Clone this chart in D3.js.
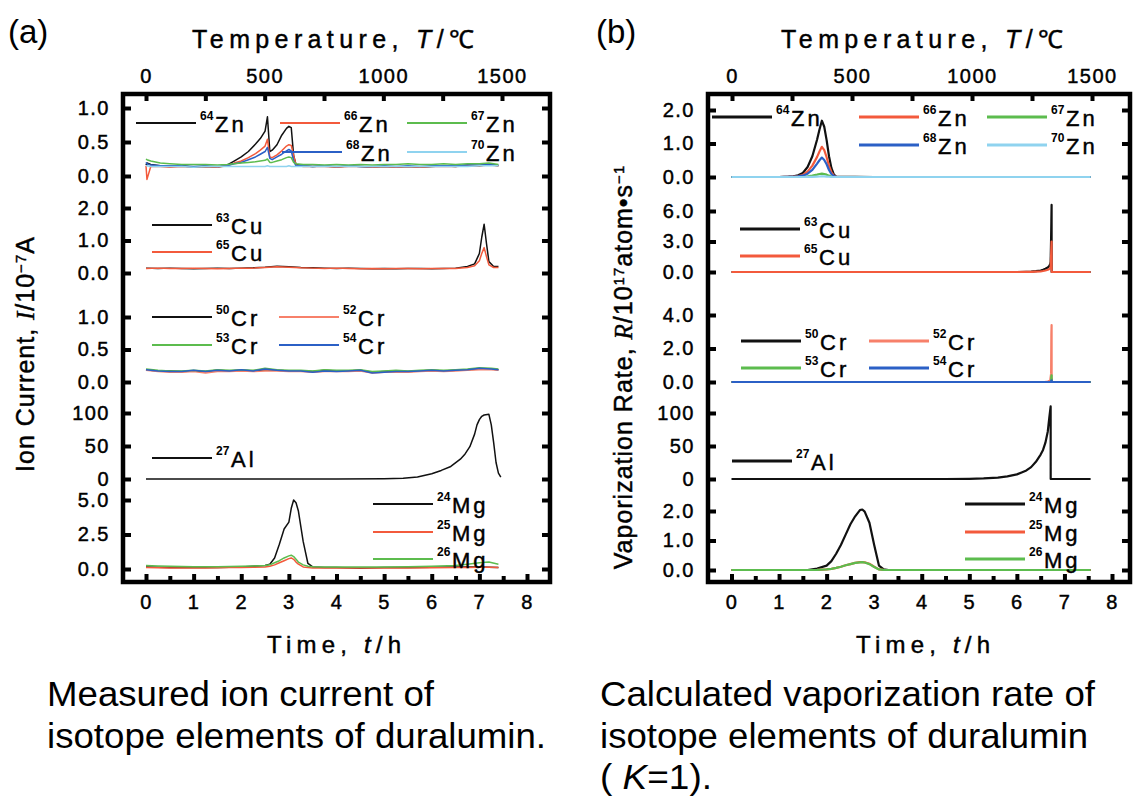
<!DOCTYPE html>
<meta charset="utf-8">
<style>
body { margin: 0; background: #fff; }
svg text { font-family: "Liberation Sans", Arial, sans-serif; fill: #000; }
.heavy { stroke: #000; stroke-width: 0.45px; }
</style>
<body>
<svg id="chart" width="1134" height="799"></svg>
<script src="https://cdnjs.cloudflare.com/ajax/libs/d3/7.8.5/d3.min.js"></script>
<script>

// ---------- axis ticks ----------
var timeTicks = [0, 1, 2, 3, 4, 5, 6, 7, 8];
var timeMinor = [0.5, 1.5, 2.5, 3.5, 4.5, 5.5, 6.5, 7.5];
var tempTicks = [0, 500, 1000, 1500];
var tempMinor = [250, 750, 1250];

// ---------- (a) measured ion current, I / 10^-7 A ----------
var tZnA = [0, 0.02, 0.1, 0.3, 0.5, 0.75, 1.0, 1.25, 1.5, 1.7, 1.85, 2.0, 2.15, 2.3, 2.4, 2.5, 2.55, 2.6, 2.65, 2.75,
            2.85, 2.95, 3.0, 3.05, 3.1, 3.15, 3.3, 3.5, 3.75, 4.0, 4.25, 4.5, 4.75, 5.0, 5.25, 5.5, 5.75, 6.0, 6.25, 6.5,
            6.75, 7.0, 7.2, 7.4];
var zn64A = [0.16,0.19,0.17,0.15,0.14,0.15,0.13,0.14,0.13,0.16, 0.22,0.28,0.36,0.47,0.55,0.66,0.87,0.36,0.38,0.46,
             0.6,0.7,0.73,0.71,0.3,0.17,0.15,0.14,0.15,0.13, 0.15,0.14,0.13,0.14,0.13,0.14,0.13,0.14,0.15,0.14,
             0.16,0.15,0.17,0.15];
var zn66A = [0.15,-0.05,0.14,0.14,0.13,0.14,0.13,0.14,0.13,0.15, 0.19,0.22,0.27,0.33,0.38,0.44,0.54,0.28,0.27,0.31,
             0.37,0.44,0.46,0.45,0.3,0.16,0.14,0.14,0.14,0.13, 0.14,0.14,0.13,0.14,0.13,0.14,0.13,0.14,0.14,0.14,
             0.15,0.15,0.16,0.15];
var zn67A = [0.25,0.24,0.22,0.19,0.18,0.17,0.17,0.17,0.16,0.17, 0.18,0.19,0.2,0.21,0.22,0.23,0.25,0.2,0.2,0.22,
             0.24,0.27,0.28,0.27,0.2,0.18,0.17,0.17,0.16,0.17, 0.16,0.17,0.16,0.17,0.17,0.18,0.17,0.17,0.18,0.17,
             0.18,0.18,0.19,0.17];
var zn68A = [0.2,0.18,0.16,0.15,0.15,0.15,0.14,0.15,0.14,0.15, 0.18,0.2,0.24,0.28,0.32,0.36,0.42,0.26,0.24,0.28,
             0.32,0.37,0.39,0.37,0.22,0.15,0.15,0.14,0.15,0.14, 0.15,0.14,0.14,0.15,0.14,0.15,0.14,0.15,0.15,0.15,
             0.16,0.16,0.17,0.16];
var zn70A = [0.15,0.15,0.14,0.14,0.14,0.14,0.13,0.14,0.14,0.14, 0.14,0.14,0.14,0.14,0.14,0.14,0.15,0.14,0.14,0.14,
             0.14,0.14,0.15,0.14,0.14,0.14,0.14,0.14,0.14,0.14, 0.14,0.14,0.14,0.14,0.14,0.14,0.14,0.14,0.14,0.14,
             0.14,0.15,0.15,0.15];

var tCuA = [0,0.25,0.5,0.75,1.0,1.25,1.5,1.75,2.0,2.25, 2.5,2.75,3.0,3.25,3.5,3.75,4.0,4.25,4.5,4.75,
            5.0,5.25,5.5,5.75,6.0,6.25,6.5,6.75,6.9,7.0, 7.05,7.1,7.15,7.2,7.3,7.4];
var cu63A = [0.15,0.14,0.15,0.14,0.13,0.14,0.15,0.14,0.15,0.16, 0.18,0.21,0.19,0.17,0.16,0.15,0.14,0.15,0.14,0.13,
             0.14,0.13,0.14,0.14,0.13,0.14,0.15,0.2,0.28,0.6, 1.1,1.5,0.9,0.35,0.2,0.2];
var cu65A = [0.14,0.15,0.14,0.14,0.15,0.14,0.13,0.14,0.15,0.15, 0.17,0.19,0.18,0.16,0.15,0.14,0.15,0.14,0.13,0.14,
             0.13,0.14,0.14,0.13,0.14,0.14,0.14,0.17,0.22,0.38, 0.6,0.78,0.5,0.25,0.17,0.17];

var tCrA = [0,0.25,0.5,0.75,1.0,1.25,1.5,1.75,2.0,2.25, 2.5,2.75,3.0,3.25,3.5,3.75,4.0,4.25,4.5,4.75,
            5.0,5.25,5.5,5.75,6.0,6.25,6.5,6.75,7.0,7.25, 7.4];
var cr50A = [0.19,0.17,0.17,0.16,0.17,0.16,0.18,0.17,0.18,0.17, 0.19,0.18,0.17,0.17,0.16,0.18,0.17,0.17,0.18,0.15,
             0.16,0.17,0.16,0.17,0.18,0.17,0.18,0.19,0.2,0.2, 0.19];
var cr52A = [0.18,0.16,0.15,0.15,0.16,0.14,0.16,0.16,0.17,0.16, 0.17,0.17,0.16,0.16,0.15,0.16,0.16,0.16,0.17,0.14,
             0.15,0.15,0.15,0.16,0.17,0.16,0.17,0.18,0.19,0.19, 0.18];
var cr53A = [0.2,0.18,0.17,0.17,0.18,0.17,0.19,0.18,0.19,0.18, 0.21,0.19,0.18,0.18,0.17,0.19,0.18,0.18,0.19,0.16,
             0.17,0.18,0.17,0.18,0.19,0.18,0.19,0.2,0.22,0.21, 0.2];
var cr54A = [0.19,0.17,0.16,0.16,0.18,0.16,0.18,0.17,0.19,0.17, 0.2,0.18,0.17,0.17,0.15,0.17,0.16,0.17,0.18,0.14,
             0.15,0.16,0.16,0.17,0.18,0.17,0.18,0.19,0.21,0.2, 0.19];

var tAlA = [0,1,2,3,4,5,5.4,5.7,6.0,6.2, 6.4,6.6,6.7,6.8,6.9,6.95,7.0,7.05,7.1,7.2, 7.25,7.3,7.35,7.4,7.45];
var al27A = [0,0,0,0,0,0.3,1,3,8,13, 19,30,38,49,68,82,90,95,97,98, 82,55,25,9,3];

var tMgA = [0,0.25,0.5,0.75,1.0,1.25,1.5,1.75,2.0,2.25, 2.5,2.6,2.7,2.8,2.9,3.0,3.05,3.1,3.15,3.2,
            3.3,3.4,3.5,3.75,4.0,4.5,5.0,5.5,6.0,6.5, 6.75,7.0,7.2,7.4];
var mg24A = [0.15,0.12,0.1,0.1,0.1,0.1,0.1,0.12,0.15,0.2, 0.25,0.35,0.8,1.8,2.9,3.4,4.4,5.0,4.8,4.2,
             2.0,0.4,0.15,0.1,0.1,0.05,0.1,0.1,0.12,0.15, 0.15,0.15,0.12,0.1];
var mg25A = [0.1,0.09,0.08,0.08,0.08,0.08,0.09,0.1,0.1,0.12, 0.15,0.2,0.3,0.45,0.6,0.75,0.8,0.7,0.5,0.35,
             0.15,0.1,0.08,0.08,0.08,0.08,0.08,0.08,0.09,0.1, 0.1,0.12,0.12,0.1];
var mg26A = [0.25,0.22,0.2,0.18,0.17,0.17,0.17,0.18,0.2,0.22, 0.25,0.3,0.45,0.6,0.8,0.95,1.0,0.9,0.7,0.5,
             0.3,0.2,0.17,0.15,0.15,0.14,0.15,0.17,0.2,0.25, 0.35,0.45,0.5,0.35];

// ---------- (b) calculated vaporization rate, R / 10^17 atom s^-1 ----------
var tZnB = [0,1.0,1.2,1.3,1.4,1.5,1.6,1.7,1.8,1.85, 1.9,1.95,2.0,2.05,2.1,2.15,2.2,3.0,7.55];
var zn64B = [0,0,0.01,0.02,0.05,0.12,0.3,0.62,1.12,1.42, 1.68,1.5,1.1,0.62,0.27,0.08,0.01,0,0];
var zn66B = [0,0,0.005,0.01,0.03,0.06,0.16,0.34,0.6,0.76, 0.9,0.8,0.59,0.33,0.15,0.04,0.005,0,0];
var zn67B = [0,0,0,0,0.003,0.007,0.018,0.04,0.07,0.09, 0.1,0.09,0.07,0.04,0.017,0.005,0,0,0];
var zn68B = [0,0,0.003,0.007,0.017,0.04,0.1,0.21,0.4,0.5, 0.58,0.51,0.38,0.21,0.09,0.03,0.003,0,0];
var zn70B = [0,0,0,0,0,0,0.003,0.006,0.012,0.015, 0.018,0.016,0.012,0.007,0.003,0,0,0,0];

var tCuB = [0,6.0,6.2,6.3,6.4,6.5,6.55,6.6,6.65,6.68, 6.7,6.71,6.72,6.725,6.73,6.731,7.55];
var cu63B = [0,0,0.02,0.04,0.08,0.15,0.22,0.32,0.45,0.6, 0.75,1.0,3.4,5.0,6.6,0,0];
var cu65B = [0,0,0.01,0.02,0.04,0.07,0.1,0.15,0.22,0.3, 0.37,0.5,1.6,2.4,3.0,0,0];

var tCrB = [0,6.5,6.6,6.65,6.7,6.72,6.725,6.73,6.731,7.55];
var cr50B = [0,0,0,0,0.01,0.03,0.15,0.18,0,0];
var cr52B = [0,0,0.01,0.03,0.08,0.5,2.8,3.4,0,0];
var cr53B = [0,0,0,0,0.01,0.05,0.32,0.4,0,0];
var cr54B = [0,0,0,0,0,0.01,0.08,0.1,0,0];

var tAlB = [0,4.5,5.0,5.3,5.6,5.8,6.0,6.1,6.2,6.3, 6.4,6.5,6.55,6.6,6.65,6.68,6.71,6.711,7.55];
var al27B = [0,0,0.3,0.9,2.2,4,7,10,13,18, 26,37,44,55,72,92,110,0,0];

var tMgB = [0,1.6,1.8,2.0,2.1,2.2,2.3,2.4,2.5,2.6, 2.7,2.75,2.8,2.9,3.0,3.1,3.2,3.3,7.55];
var mg24B = [0,0,0.05,0.15,0.3,0.55,0.85,1.2,1.55,1.82, 2.03,2.05,1.98,1.6,0.85,0.15,0.02,0,0];
var mg25B = [0,0,0.005,0.02,0.04,0.07,0.11,0.16,0.2,0.24, 0.265,0.27,0.26,0.21,0.11,0.02,0.003,0,0];
var mg26B = [0,0,0.005,0.02,0.04,0.07,0.11,0.16,0.2,0.24, 0.26,0.265,0.255,0.2,0.1,0.02,0.003,0,0];

// ---------- colours ----------
var C = { k: "#111", r: "#f35a3c", g: "#5cbc4e", b: "#2b60c6", lb: "#8fd3ef", s: "#f7806a" };

// ---------- layout ----------
var fmt1 = d3.format(".1f"), fmt0 = d3.format("d");

var panels = [
  { tag: "(a)", tagX: 8, left: 123, right: 550, top: 94, bottom: 582, t0: 146, t8: 527, T0: 146, T1500: 502,
    titleX: 333, lw: 1.5, legLw: 2.2, ytitleX: 34, ytitleY: 354,
    ytitle: [["Ion Current, ", ""], ["I", "it"], ["/10", ""], ["\u22127", "sup"], ["A", ""]],
    subs: [
      { ticks: [0, 0.5, 1.0], px: [176, 108], fmt: fmt1, t: tZnA, el: "Zn",
        s: [["64", zn64A, C.k, 136, 123], ["66", zn66A, C.r, 280, 123], ["68", zn68A, C.b, 282, 152],
            ["67", zn67A, C.g, 407, 123], ["70", zn70A, C.lb, 407, 152]] },
      { ticks: [0, 1, 2], px: [273, 208], fmt: fmt1, t: tCuA, el: "Cu",
        s: [["63", cu63A, C.k, 152, 225], ["65", cu65A, C.r, 152, 252]] },
      { ticks: [0, 0.5, 1.0], px: [382, 317], fmt: fmt1, t: tCrA, el: "Cr",
        s: [["50", cr50A, C.k, 152, 317], ["52", cr52A, C.s, 279, 317], ["53", cr53A, C.g, 152, 345], ["54", cr54A, C.b, 279, 345]] },
      { ticks: [0, 50, 100], px: [479, 413], fmt: fmt0, t: tAlA, el: "Al",
        s: [["27", al27A, C.k, 152, 458]] },
      { ticks: [0, 2.5, 5.0], px: [569, 500], fmt: fmt1, t: tMgA, el: "Mg",
        s: [["24", mg24A, C.k, 373, 504], ["25", mg25A, C.r, 373, 532], ["26", mg26A, C.g, 373, 559]] }
    ] },
  { tag: "(b)", tagX: 596, left: 708, right: 1130, top: 94, bottom: 582, t0: 731.5, t8: 1112, T0: 732, T1500: 1092,
    titleX: 922, lw: 2.2, legLw: 2.8, ytitleX: 632, ytitleY: 367,
    ytitle: [["Vaporization Rate, ", ""], ["R", "it"], ["/10", ""], ["17", "sup"], ["atom\u2022s", ""], ["\u22121", "sup"]],
    subs: [
      { ticks: [0, 1, 2], px: [177, 110], fmt: fmt1, t: tZnB, el: "Zn",
        s: [["64", zn64B, C.k, 712, 117], ["66", zn66B, C.r, 859, 117], ["67", zn67B, C.g, 987, 117],
            ["68", zn68B, C.b, 859, 145], ["70", zn70B, C.lb, 987, 145]] },
      { ticks: [0, 3, 6], px: [272, 211], fmt: fmt1, t: tCuB, el: "Cu",
        s: [["63", cu63B, C.k, 740, 229], ["65", cu65B, C.r, 740, 256]] },
      { ticks: [0, 2, 4], px: [382, 315], fmt: fmt1, t: tCrB, el: "Cr",
        s: [["50", cr50B, C.k, 741, 341], ["52", cr52B, C.s, 869, 341], ["53", cr53B, C.g, 741, 368], ["54", cr54B, C.b, 869, 368]] },
      { ticks: [0, 50, 100], px: [479, 413], fmt: fmt0, t: tAlB, el: "Al",
        s: [["27", al27B, C.k, 732, 461]] },
      { ticks: [0, 1, 2], px: [570, 511], fmt: fmt1, t: tMgB, el: "Mg",
        s: [["24", mg24B, C.k, 965, 504], ["25", mg25B, C.r, 965, 532], ["26", mg26B, C.g, 965, 559]] }
    ] }
];

var svg = d3.select("#chart");

function styleAxis(g) {
  g.select(".domain").remove();
  g.attr("font-family", "Liberation Sans, Arial, sans-serif").attr("font-size", 20);
  g.selectAll(".tick line").attr("stroke", "#000").attr("stroke-width", 4);
  g.selectAll(".tick text").attr("fill", "#000").attr("class", "heavy").style("letter-spacing", "1.5px");
}

function drawPanel(p) {
  var x = d3.scaleLinear().domain([0, 8]).range([p.t0, p.t8]);
  var xT = d3.scaleLinear().domain([0, 1500]).range([p.T0, p.T1500]);

  svg.append("text").attr("x", p.tagX).attr("y", 43).attr("font-size", 33).text(p.tag);

  // top: temperature
  var ta = svg.append("g").attr("transform", "translate(0," + p.top + ")")
    .call(d3.axisTop(xT).tickValues(tempTicks.concat(tempMinor)).tickSize(-7).tickPadding(11)
      .tickFormat(function (d) { return tempTicks.indexOf(d) >= 0 ? d : ""; }));
  styleAxis(ta);
  var tt = svg.append("text").attr("x", p.titleX).attr("y", 48).attr("text-anchor", "middle")
    .attr("class", "heavy").attr("font-size", 25).attr("textLength", 282).attr("lengthAdjust", "spacing");
  tt.append("tspan").text("Temperature, ");
  tt.append("tspan").attr("font-style", "italic").text("T");
  tt.append("tspan").text("/\u2103");

  // bottom: time
  var ba = svg.append("g").attr("transform", "translate(0," + p.bottom + ")")
    .call(d3.axisBottom(x).tickValues(timeTicks.concat(timeMinor)).tickSize(-8).tickPadding(13)
      .tickFormat(function (d) { return timeTicks.indexOf(d) >= 0 ? d : ""; }));
  styleAxis(ba);
  ba.selectAll(".tick line").attr("y2", function (d) { return timeTicks.indexOf(d) >= 0 ? -8 : -6; });
  var bt = svg.append("text").attr("x", p.titleX + 1).attr("y", 653).attr("text-anchor", "middle")
    .attr("class", "heavy").attr("font-size", 24).attr("textLength", 134).attr("lengthAdjust", "spacing");
  bt.append("tspan").text("Time, ");
  bt.append("tspan").attr("font-style", "italic").text("t");
  bt.append("tspan").text("/h");

  // y title
  var yt = svg.append("text").attr("transform", "translate(" + p.ytitleX + "," + p.ytitleY + ") rotate(-90)")
    .attr("text-anchor", "middle").attr("font-size", 25).attr("class", "heavy").style("letter-spacing", "1px");
  p.ytitle.forEach(function (part) {
    var ts = yt.append("tspan").text(part[0]);
    if (part[1] === "it") ts.attr("font-style", "italic").attr("font-family", "Liberation Serif, serif");
    if (part[1] === "sup") ts.attr("font-size", 15).attr("baseline-shift", "55%");
  });

  var line = d3.line();
  p.subs.forEach(function (sp) {
    var y = d3.scaleLinear().domain([0, sp.ticks[2]]).range(sp.px);

    var la = svg.append("g").attr("transform", "translate(" + p.left + ",0)")
      .call(d3.axisLeft(y).tickValues(sp.ticks).tickSize(-8).tickPadding(13).tickFormat(sp.fmt));
    styleAxis(la);
    var ra = svg.append("g").attr("transform", "translate(" + p.right + ",0)")
      .call(d3.axisRight(y).tickValues(sp.ticks).tickSize(-8).tickFormat(""));
    styleAxis(ra);

    line.x(function (d) { return x(d[0]); }).y(function (d) { return y(d[1]); });
    sp.s.forEach(function (s) {
      var pts = d3.zip(sp.t, s[1]);
      svg.append("path").datum(pts).attr("d", line).attr("fill", "none")
        .attr("stroke", s[2]).attr("stroke-width", p.lw).attr("stroke-linejoin", "round");
    });

    // legend
    sp.s.forEach(function (s) {
      var lx = s[3], ly = s[4];
      svg.append("line").attr("x1", lx).attr("x2", lx + 60).attr("y1", ly).attr("y2", ly)
        .attr("stroke", s[2]).attr("stroke-width", p.legLw);
      svg.append("text").attr("x", lx + 64).attr("y", ly - 3).attr("font-size", 12).attr("font-weight", "bold").text(s[0]);
      svg.append("text").attr("x", lx + 79).attr("y", ly + 9).attr("font-size", 22).attr("class", "heavy")
        .style("letter-spacing", "3px").text(sp.el);
    });
  });

  // frame on top
  svg.append("rect").attr("x", p.left).attr("y", p.top).attr("width", p.right - p.left)
    .attr("height", p.bottom - p.top).attr("fill", "none").attr("stroke", "#000").attr("stroke-width", 4.5);
}

panels.forEach(drawPanel);

// captions
function caption(x, y, len, parts) {
  var t = svg.append("text").attr("x", x).attr("y", y).attr("font-size", 35);
  if (len) t.attr("textLength", len).attr("lengthAdjust", "spacingAndGlyphs");
  parts.forEach(function (p) {
    var ts = t.append("tspan").text(p[0]);
    if (p[1]) ts.attr("font-style", "italic");
  });
}
caption(47, 706, 387, [["Measured ion current of"]]);
caption(47, 748, 499, [["isotope elements of duralumin."]]);
caption(600, 706, 495, [["Calculated vaporization rate of"]]);
caption(600, 748, 488, [["isotope elements of duralumin"]]);
caption(600, 789, 112, [["( "], ["K", 1], ["=1)."]]);

</script>
